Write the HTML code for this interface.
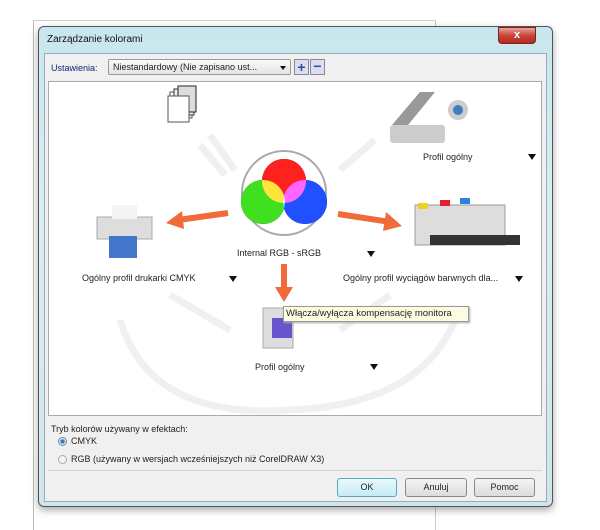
<!DOCTYPE html>
<html><head><meta charset="utf-8"><style>
*{margin:0;padding:0;box-sizing:border-box}
body{width:600px;height:525px;background:#fff;position:relative;overflow:hidden;font-family:"Liberation Sans",sans-serif;font-size:9px;color:#222}
.a{position:absolute}
.btn{position:absolute;height:19px;border:1px solid #8a8a8a;border-radius:3px;background:linear-gradient(#f4f4f4,#dcdcdc);text-align:center;line-height:17px;font-size:9px}
.tri{position:absolute;width:0;height:0;border-left:4px solid transparent;border-right:4px solid transparent;border-top:6px solid #111}
</style></head><body>
<div class="a" style="left:33px;top:20px;width:403px;height:510px;border-left:1px solid #bbb;border-top:1px solid #ccc;border-right:1px solid #ccc"></div>
<div class="a" style="left:38px;top:26px;width:515px;height:481px;border:1px solid #555;border-radius:6px;background:linear-gradient(#c8e6ee,#d8eef3 40%,#cfe5ec);box-shadow:0 3px 8px rgba(0,0,0,.35)"></div>
<div class="a" style="left:47px;top:34px;font-size:10px;color:#111">Zarządzanie kolorami</div>
<div class="a" style="left:498px;top:27px;width:38px;height:17px;border:1px solid #7a2020;border-radius:0 0 4px 4px;background:linear-gradient(#e9a59c,#c8453a 50%,#b8281e);color:#fff;font-weight:bold;font-size:11px;text-align:center;line-height:15px">x</div>
<div class="a" style="left:44px;top:53px;width:503px;height:449px;background:#f0f0f0;border:1px solid #9ab"></div>
<div class="a" style="left:51px;top:63px;font-size:9px;color:#0b2a6e">Ustawienia:</div>
<div class="a" style="left:108px;top:59px;width:183px;height:16px;border:1px solid #999;border-radius:2px;background:linear-gradient(#fafafa,#e4e4e4);padding-left:4px;line-height:14px;font-size:9px">Niestandardowy (Nie zapisano ust...</div>
<div class="tri" style="left:280px;top:66px;border-top-width:4px;border-left-width:3px;border-right-width:3px"></div>
<div class="a" style="left:294px;top:59px;width:15px;height:16px;border:1px solid #889;background:#dde;color:#2255aa;font-weight:bold;font-size:14px;text-align:center;line-height:14px">+</div>
<div class="a" style="left:310px;top:59px;width:15px;height:16px;border:1px solid #889;background:#dde;color:#2255aa;font-weight:bold;font-size:14px;text-align:center;line-height:13px">−</div>
<div class="a" style="left:48px;top:81px;width:494px;height:335px;background:#fff;border:1px solid #aaa"></div>
<svg class="a" style="left:0;top:0" width="600" height="525">
<g fill="none" stroke="#f0f0f0" stroke-width="7">
<path d="M120 320 Q150 420 290 410 Q420 405 455 320"/>
<path d="M210 135 L235 170"/><path d="M200 145 L225 175"/><path d="M375 140 L340 170"/>
<path d="M170 295 L230 330"/><path d="M390 295 L340 330"/>
</g>
<rect x="170" y="92" width="22" height="26" fill="#fff" stroke="#555"/>
<rect x="174" y="89" width="20" height="26" fill="#eee" stroke="#333"/>
<rect x="178" y="86" width="18" height="26" fill="#ddd" stroke="#222"/>
<rect x="168" y="96" width="21" height="26" fill="#fff" stroke="#555"/>
<polygon points="392,125 420,92 435,92 408,125" fill="#999"/>
<rect x="390" y="125" width="55" height="18" fill="#ccc" rx="3"/>
<circle cx="458" cy="110" r="10" fill="#ccc"/><circle cx="458" cy="110" r="5" fill="#3b7fc0"/>
<circle cx="284" cy="193" r="42" fill="#fff" stroke="#aaa" stroke-width="2"/>
<g style="isolation:isolate">
<circle cx="284" cy="181" r="22" fill="#000"/><circle cx="263" cy="202" r="22" fill="#000"/><circle cx="305" cy="202" r="22" fill="#000"/>
<circle cx="284" cy="181" r="22" fill="#ff2020" style="mix-blend-mode:screen"/>
<circle cx="263" cy="202" r="22" fill="#40e020" style="mix-blend-mode:screen"/>
<circle cx="305" cy="202" r="22" fill="#2050ff" style="mix-blend-mode:screen"/>
</g>
<path d="M228 213 L178 220" stroke="#f06a3a" stroke-width="6"/><polygon points="166,223 182,211 184,229" fill="#f06a3a"/>
<path d="M338 214 L390 222" stroke="#f06a3a" stroke-width="6"/><polygon points="402,226 386,212 383,231" fill="#f06a3a"/>
<path d="M284 264 L284 290" stroke="#f06a3a" stroke-width="6"/><polygon points="284,302 275,287 293,287" fill="#f06a3a"/>
<rect x="97" y="217" width="55" height="22" fill="#ddd" stroke="#aaa"/><rect x="112" y="205" width="25" height="14" fill="#f4f4f4"/>
<rect x="109" y="236" width="28" height="22" fill="#4477cc"/>
<rect x="415" y="205" width="90" height="40" fill="#ddd" stroke="#999"/>
<rect x="418" y="203" width="10" height="6" fill="#f0d020"/><rect x="440" y="200" width="10" height="6" fill="#e02030"/><rect x="460" y="198" width="10" height="6" fill="#3080e0"/>
<rect x="430" y="235" width="90" height="10" fill="#333"/>
<rect x="263" y="308" width="30" height="40" fill="#ddd" stroke="#aaa"/><rect x="272" y="318" width="20" height="20" fill="#6655cc"/>
</svg>
<div class="a" style="left:237px;top:248px">Internal RGB - sRGB</div><div class="tri" style="left:367px;top:251px"></div>
<div class="a" style="left:423px;top:152px">Profil ogólny</div><div class="tri" style="left:528px;top:154px"></div>
<div class="a" style="left:82px;top:273px">Ogólny profil drukarki CMYK</div><div class="tri" style="left:229px;top:276px"></div>
<div class="a" style="left:343px;top:273px">Ogólny profil wyciągów barwnych dla...</div><div class="tri" style="left:515px;top:276px"></div>
<div class="a" style="left:255px;top:362px">Profil ogólny</div><div class="tri" style="left:370px;top:364px"></div>
<div class="a" style="left:283px;top:306px;width:186px;height:16px;background:#fdfbe0;border:1px solid #999;padding-left:2px;line-height:14px;font-size:9.5px;box-shadow:1px 1px 2px #aaa">Włącza/wyłącza kompensację monitora</div>
<div class="a" style="left:51px;top:424px">Tryb kolorów używany w efektach:</div>
<div class="a" style="left:58px;top:437px;width:9px;height:9px;border-radius:50%;border:1px solid #789;background:radial-gradient(#2a7fd0 40%,#dfe9f2 50%)"></div>
<div class="a" style="left:71px;top:436px">CMYK</div>
<div class="a" style="left:58px;top:455px;width:9px;height:9px;border-radius:50%;border:1px solid #aaa;background:#f4f4f4"></div>
<div class="a" style="left:71px;top:454px">RGB (używany w wersjach wcześniejszych niż CorelDRAW X3)</div>
<div class="a" style="left:48px;top:470px;width:494px;height:1px;background:#d4d4d4"></div>
<div class="btn" style="left:337px;top:478px;width:60px;border-color:#5ab;background:linear-gradient(#eaf8fc,#c6ecf5)">OK</div>
<div class="btn" style="left:405px;top:478px;width:62px">Anuluj</div>
<div class="btn" style="left:474px;top:478px;width:61px">Pomoc</div>
</body></html>
